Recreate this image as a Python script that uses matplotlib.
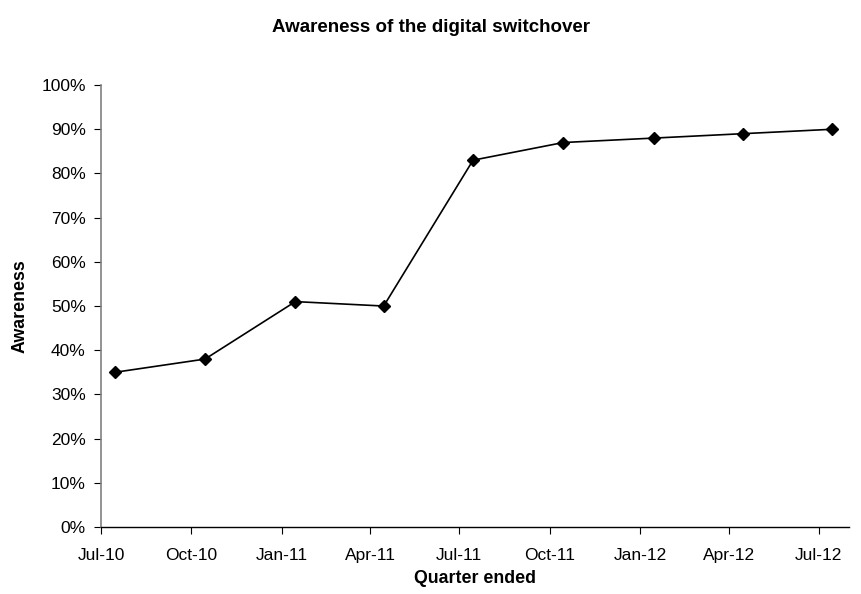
"""Line chart: awareness of the digital switchover by quarter."""
import matplotlib
matplotlib.use("Agg")
import matplotlib.pyplot as plt
import matplotlib.dates as mdates
import numpy as np
import pandas as pd
from matplotlib.ticker import FuncFormatter

plt.rcParams["font.family"] = ["Liberation Sans", "DejaVu Sans"]

# quarter-ended dates and awareness share (%)
quarter_dates = ["2010-07-15", "2010-10-15", "2011-01-15", "2011-04-15", "2011-07-15",
                 "2011-10-15", "2012-01-15", "2012-04-15", "2012-07-15"]
awareness = [35, 38, 51, 50, 83, 87, 88, 89, 90]
tick_dates = ["2010-07-01", "2010-10-01", "2011-01-01", "2011-04-01", "2011-07-01",
              "2011-10-01", "2012-01-01", "2012-04-01", "2012-07-01"]

x = pd.to_datetime(quarter_dates)
ticks = pd.to_datetime(tick_dates)

fig = plt.figure(figsize=(8.61, 5.94), dpi=100)
ax = fig.add_axes([0.1173, 0.1128, 0.8688, 0.744])

ax.plot(x, np.array(awareness) / 100, color="black", linewidth=1.2,
        marker="D", markersize=6, markerfacecolor="black", markeredgecolor="black")

ax.set_xlim(pd.Timestamp("2010-07-01"), pd.Timestamp("2012-08-01"))
ax.set_ylim(0, 1)
ax.set_xticks(ticks)
ax.xaxis.set_major_formatter(mdates.DateFormatter("%b-%y"))
ax.set_yticks(np.arange(0, 1.01, 0.1))
ax.yaxis.set_major_formatter(FuncFormatter(lambda v, _: f"{v:.0%}"))

for side in ("top", "right"):
    ax.spines[side].set_visible(False)
ax.spines["left"].set_color("#808080")
ax.spines["left"].set_linewidth(1.2)
ax.spines["bottom"].set_color("black")
ax.spines["bottom"].set_linewidth(1.0)
ax.tick_params(axis="both", direction="out", length=5, labelsize=12.5, pad=6)
ax.tick_params(axis="x", pad=10)
ax.tick_params(axis="y", color="black")

ax.set_xlabel("Quarter ended", fontsize=12.8, fontweight="bold", labelpad=5)
ax.set_ylabel("Awareness", fontsize=12.8, fontweight="bold", labelpad=9)
fig.text(0.5, 0.9545, "Awareness of the digital switchover", ha="center", va="center",
         fontsize=13.5, fontweight="bold")

fig.savefig("out.png", dpi=100)
